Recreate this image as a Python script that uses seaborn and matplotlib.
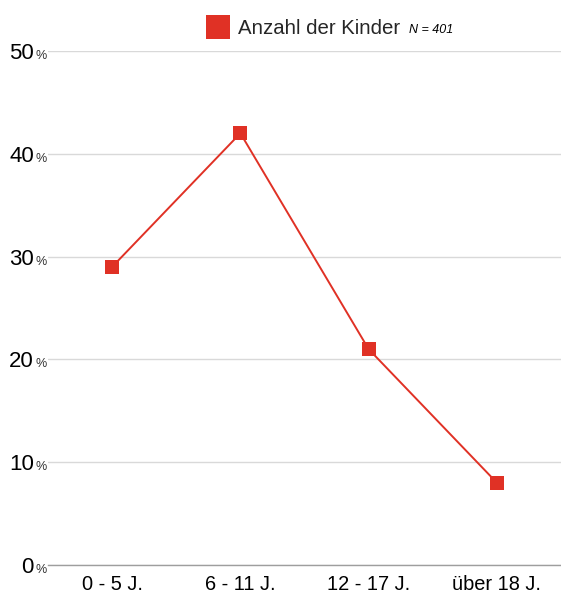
import matplotlib.pyplot as plt
import pandas as pd
import seaborn as sns
from matplotlib.lines import Line2D
from matplotlib.transforms import blended_transform_factory, offset_copy

categories = ["0 - 5 J.", "6 - 11 J.", "12 - 17 J.", "über 18 J."]
values = [29, 42, 21, 8]
yticks = [0, 10, 20, 30, 40, 50]
series_name = "Anzahl der Kinder"
n_note = "N = 401"

red = "#e03125"

sns.set_theme(style="white")
plt.rcParams["font.family"] = ["Liberation Sans", "DejaVu Sans"]

df = pd.DataFrame({"cat": categories, "val": values})

fig = plt.figure(figsize=(5.61, 5.93), dpi=100)
ax = fig.add_axes([48 / 561, 1 - 565 / 593, 1 - 48 / 561, (565 - 51) / 593])

sns.lineplot(data=df, x="cat", y="val", ax=ax, color=red, linewidth=1.4,
             marker="s", markersize=10.5, markeredgewidth=0, sort=False, legend=False)

ax.set_xlim(-0.5, len(categories) - 0.5)
ax.set_ylim(0, 50)
ax.set_yticks(yticks)
ax.yaxis.grid(True, color="#d9d9d9", linewidth=1)
ax.set_axisbelow(True)
ax.set_yticklabels([])
ax.tick_params(axis="y", length=0)
ax.tick_params(axis="x", length=0, labelsize=14.4, pad=7, colors="black")
for s in ["top", "right", "left"]:
    ax.spines[s].set_visible(False)
ax.spines["bottom"].set_color("#9e9e9e")
ax.spines["bottom"].set_linewidth(1)
ax.set_xlabel("")
ax.set_ylabel("")

# y tick labels: big number + small "%", sharing a baseline below the gridline
tr = blended_transform_factory(fig.transFigure, ax.transData)
tr_base = offset_copy(tr, fig=fig, y=-8, units="dots")
for t in yticks:
    ax.text(34 / 561, t, str(t), transform=tr_base, ha="right", va="baseline",
            fontsize=16, color="black")
    ax.text(35 / 561, t, "%", transform=tr_base, ha="left", va="baseline",
            fontsize=9, color="#333333")

handle = Line2D([], [], marker="s", linestyle="none", markersize=17,
                color=red, markeredgewidth=0)
fig.legend([handle], [series_name], loc="center left",
           bbox_to_anchor=(208 / 561, 1 - 29 / 593), frameon=False,
           fontsize=14.7, handlelength=1.0, handletextpad=0.47, borderpad=0,
           borderaxespad=0)
fig.text(409 / 561, 1 - 30 / 593, n_note, fontsize=9, style="italic",
         ha="left", va="center", color="black")

fig.savefig("out.png", dpi=100)
